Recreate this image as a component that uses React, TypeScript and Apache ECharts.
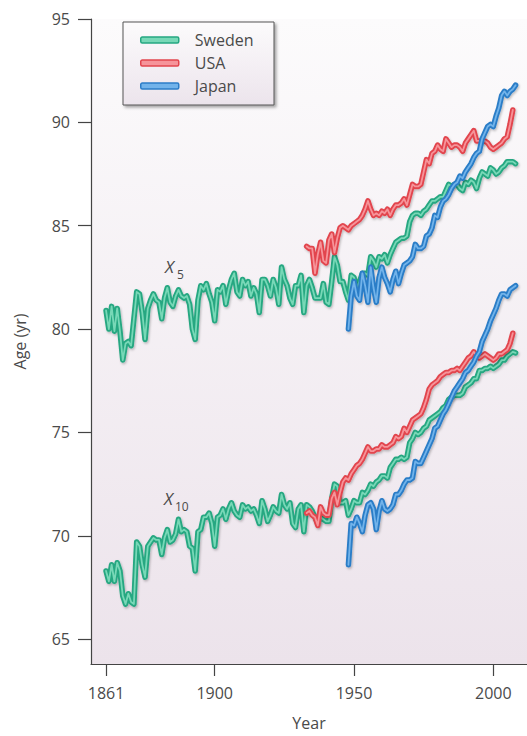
import React, { useEffect, useRef } from "react";
import * as echarts from "echarts";

const SWEDEN_START = 1861;
const USA_START = 1933;
const JAPAN_START = 1948;

const xTickYears = [1861, 1900, 1950, 2000];
const yTickValues = [65, 70, 75, 80, 85, 90, 95];
const countries = ["Sweden", "USA", "Japan"];

const swedenX5 = [
  80.9, 80.0, 81.1, 79.9, 81.0, 79.9, 78.5, 79.3, 79.4, 79.2,
  80.5, 81.8, 81.7, 80.8, 79.5, 81.0, 81.4, 81.7, 81.4, 81.3,
  80.5, 81.5, 82.0, 81.3, 81.1, 81.6, 81.9, 81.6, 81.5, 81.6,
  81.2, 80.0, 79.5, 81.4, 82.1, 81.9, 82.2, 81.7, 81.3, 80.4,
  81.9, 81.8, 82.1, 81.2, 81.9, 82.4, 82.7, 81.8, 81.6, 82.4,
  82.1, 82.3, 81.6, 82.0, 81.7, 80.8, 82.4, 82.4, 82.1, 81.6,
  82.4, 82.0, 81.2, 83.0, 82.4, 82.1, 81.5, 81.2, 82.1, 82.1,
  82.6, 80.8, 82.1, 82.4, 82.0, 81.5, 81.5, 81.5, 82.2, 81.3,
  81.2, 82.3, 83.5, 83.1, 82.3, 82.3, 81.8, 81.4, 82.6, 82.5,
  82.0, 82.3, 82.7, 82.7, 82.6, 83.5, 83.3, 83.0, 83.5, 83.4,
  83.6, 83.2, 83.6, 83.9, 84.2, 84.3, 84.4, 84.4, 84.5, 85.2,
  85.5, 85.6, 85.6, 85.5, 85.7, 85.8, 86.0, 86.2, 86.2, 86.3,
  86.4, 86.4, 86.7, 87.0, 86.9, 87.0, 87.0, 86.8, 86.7, 87.1,
  87.0, 87.2, 87.1, 86.8, 87.3, 87.6, 87.5, 87.4, 87.8, 87.7,
  87.5, 87.6, 87.8, 87.9, 88.1, 88.1, 88.1, 88.0,
];

const swedenX10 = [
  68.3, 67.8, 68.6, 67.8, 68.7, 68.3, 67.1, 66.7, 67.2, 66.8,
  66.7, 69.7, 69.5, 68.6, 68.0, 69.5, 69.7, 69.9, 69.8, 69.8,
  69.1, 69.9, 70.3, 69.7, 69.8, 70.1, 70.8, 70.2, 70.3, 70.2,
  69.5, 69.4, 68.3, 70.2, 70.3, 70.9, 70.9, 71.1, 70.6, 69.5,
  70.9, 71.0, 71.3, 70.8, 71.3, 71.6, 71.2, 71.0, 70.9, 71.5,
  71.3, 71.4, 71.2, 71.3, 71.0, 70.6, 71.7, 71.3, 70.7, 71.0,
  71.4, 71.2, 71.1, 72.0, 71.5, 71.3, 71.6, 70.6, 70.4, 71.3,
  71.5, 70.2, 71.5, 71.4, 71.2, 70.9, 70.6, 70.9, 70.8, 70.7,
  70.7, 71.8, 72.5, 72.4, 71.6, 71.6, 71.7, 71.0, 71.3, 71.7,
  71.6, 71.6, 72.1, 72.0, 72.2, 72.5, 72.4, 72.6, 72.7, 72.9,
  72.9, 72.8, 73.3, 73.5, 73.7, 73.7, 73.8, 73.7, 73.8, 74.5,
  74.7, 75.0, 74.9, 75.0, 75.2, 75.3, 75.6, 75.7, 75.8, 75.9,
  76.0, 76.2, 76.3, 76.6, 76.7, 76.8, 76.8, 76.8, 76.9, 77.2,
  77.3, 77.4, 77.6, 77.6, 78.0, 78.0, 78.1, 78.1, 78.2, 78.1,
  78.2, 78.3, 78.5, 78.5, 78.7, 78.8, 78.9, 78.85,
];

const usaX5 = [
  84.0, 83.9, 83.9, 82.7, 83.6, 84.2, 83.3, 83.2, 84.3, 84.6,
  83.7, 84.4, 84.9, 85.0, 84.9, 84.8, 85.0, 85.1, 85.2, 85.3,
  85.5, 85.8, 86.2, 85.8, 85.5, 85.6, 85.5, 85.7, 85.6, 85.8,
  85.5, 85.8, 86.0, 86.0, 86.1, 86.3, 86.0, 86.5, 87.0, 86.9,
  86.9, 87.0, 87.6, 88.2, 88.0, 88.5, 88.6, 88.9, 88.7, 88.6,
  89.2, 89.0, 88.8, 88.9, 88.9, 88.8, 88.6, 89.0, 89.2, 89.4,
  89.6, 89.1, 89.1, 89.1, 89.1, 89.0, 88.8, 88.7, 88.8, 88.9,
  89.0, 89.2, 89.3, 89.9, 90.6,
];

const usaX10 = [
  71.1, 71.2, 71.0, 70.9, 70.5, 71.4, 71.1, 71.0, 71.0, 71.8,
  72.1, 71.5, 72.1, 72.6, 72.8, 72.7, 73.0, 73.2, 73.4, 73.5,
  73.7, 74.0, 74.3, 74.1, 74.1, 74.2, 74.2, 74.4, 74.3, 74.3,
  74.4, 74.5, 74.8, 74.7, 74.8, 75.2, 75.0, 75.3, 75.6, 75.7,
  75.8, 75.9, 76.2, 76.6, 77.1, 77.3, 77.4, 77.5, 77.7, 77.8,
  77.9, 77.9, 78.0, 78.0, 78.1, 78.0, 78.2, 78.4, 78.6, 78.7,
  78.9, 78.7, 78.6, 78.7, 78.8, 78.7, 78.6, 78.5, 78.6, 78.8,
  78.8, 78.9, 79.0, 79.3, 79.8,
];

const japanX5 = [
  80.0, 81.6, 82.3, 81.6, 81.4, 82.7, 82.1, 81.3, 83.0, 82.0,
  81.3, 82.5, 83.0, 82.5, 82.2, 81.8, 82.4, 82.8, 82.2, 82.7,
  83.1, 83.2, 83.3, 83.5, 84.1, 83.9, 83.9, 84.0, 84.5, 84.6,
  84.9, 85.5, 85.4, 85.9, 86.2, 86.3, 86.5, 86.8, 87.0, 87.1,
  87.4, 87.3, 87.6, 87.8, 88.0, 88.3, 88.5, 88.6, 89.2, 89.5,
  89.8, 89.9, 89.8, 90.3, 90.7, 91.3, 91.5, 91.3, 91.5, 91.6, 91.8,
];

const japanX10 = [
  68.6, 70.6, 70.5, 70.9, 70.6, 70.2, 71.0, 71.5, 71.6, 71.3,
  70.3, 71.2, 71.7, 71.3, 71.2, 71.3, 71.5, 72.0, 72.0, 72.2,
  72.5, 72.7, 72.7, 72.8, 73.6, 73.5, 73.5, 73.8, 74.1, 74.4,
  74.7, 75.2, 75.3, 75.6, 75.9, 76.1, 76.4, 76.7, 77.0, 77.2,
  77.4, 77.6, 77.9, 78.0, 78.2, 78.4, 78.7, 78.9, 79.4, 79.7,
  80.0, 80.4, 80.7, 81.0, 81.4, 81.7, 81.7, 81.6, 81.9, 82.0, 82.1,
];

const COLORS: Record<string, { outer: string; inner: string }> = {
  Sweden: { outer: "#25a781", inner: "#78d8b7" },
  USA: { outer: "#e2454e", inner: "#f6949a" },
  Japan: { outer: "#2c7dc7", inner: "#72b3ea" },
};

const TEXT = "#4a4a4a";
const FONT = "'Open Sans', 'DejaVu Sans', sans-serif";

const toPairs = (start: number, arr: number[]) => arr.map((v, i) => [start + i, v]);

function lineSeries(name: string, start: number, values: number[]) {
  const c = COLORS[name];
  const data = toPairs(start, values);
  return [
    {
      name,
      type: "line",
      data,
      symbol: "none",
      showSymbol: false,
      silent: true,
      lineStyle: {
        color: c.outer,
        width: 5.5,
        join: "round",
        cap: "round",
        shadowColor: "rgba(0,0,0,0.25)",
        shadowBlur: 2,
        shadowOffsetX: 1,
        shadowOffsetY: 1.5,
      },
      itemStyle: { color: c.outer },
    },
    {
      name,
      type: "line",
      data,
      symbol: "none",
      showSymbol: false,
      silent: true,
      lineStyle: { color: c.inner, width: 1.8, join: "round", cap: "round" },
      itemStyle: { color: c.outer },
    },
  ];
}

export default function App() {
  const ref = useRef<HTMLDivElement>(null);

  useEffect(() => {
    if (!ref.current) return;
    const chart = echarts.init(ref.current, null, { renderer: "svg" });

    const series = [
      ...lineSeries("Sweden", SWEDEN_START, swedenX5),
      ...lineSeries("Sweden", SWEDEN_START, swedenX10),
      ...lineSeries("USA", USA_START, usaX5),
      ...lineSeries("USA", USA_START, usaX10),
      ...lineSeries("Japan", JAPAN_START, japanX5),
      ...lineSeries("Japan", JAPAN_START, japanX10),
    ];

    chart.setOption({
      animation: false,
      backgroundColor: "#ffffff",
      textStyle: { fontFamily: FONT },
      grid: {
        left: 91,
        top: 19,
        right: 0,
        bottom: 65,
        show: true,
        borderWidth: 0,
        backgroundColor: new echarts.graphic.LinearGradient(0, 0, 0, 1, [
          { offset: 0, color: "#fcfbfc" },
          { offset: 1, color: "#ece3eb" },
        ]),
      },
      xAxis: {
        type: "value",
        min: 1855.6,
        max: 2012.1,
        name: "Year",
        nameLocation: "middle",
        nameGap: 51,
        nameTextStyle: { color: TEXT, fontSize: 16, fontFamily: FONT },
        axisLine: { show: true, onZero: false, lineStyle: { color: "#444", width: 1.2 } },
        axisTick: { show: true, length: 12, customValues: xTickYears, lineStyle: { color: "#444", width: 1.2 } },
        axisLabel: {
          customValues: xTickYears,
          color: TEXT,
          fontSize: 16,
          margin: 21,
          fontFamily: FONT,
          formatter: (v: number) => String(v),
        },
        splitLine: { show: false },
      },
      yAxis: {
        type: "value",
        min: 63.8,
        max: 95,
        name: "Age (yr)",
        nameLocation: "middle",
        nameGap: 63,
        nameTextStyle: { color: TEXT, fontSize: 16, fontFamily: FONT },
        axisLine: { show: true, onZero: false, lineStyle: { color: "#444", width: 1.2 } },
        axisTick: { show: true, length: 13, customValues: yTickValues, lineStyle: { color: "#444", width: 1.2 } },
        axisLabel: { customValues: yTickValues, color: TEXT, fontSize: 16, margin: 21, fontFamily: FONT },
        splitLine: { show: false },
      },
      legend: {
        orient: "vertical",
        left: 140,
        top: 32,
        padding: 0,
        itemGap: 7,
        itemWidth: 38,
        itemHeight: 6,
        selectedMode: false,
        z: 10,
        textStyle: { color: TEXT, fontSize: 16, lineHeight: 16, fontFamily: FONT, padding: [0, 0, 0, 11] },
        data: countries.map((n) => ({
          name: n,
          icon: "roundRect",
          itemStyle: { color: COLORS[n].inner, borderColor: COLORS[n].outer, borderWidth: 1.5 },
        })),
      },
      graphic: [
        {
          type: "rect",
          z: 5,
          shape: { x: 123, y: 22, width: 151, height: 83 },
          style: {
            fill: new echarts.graphic.LinearGradient(0, 0, 0, 1, [
              { offset: 0, color: "#fcfbfc" },
              { offset: 1, color: "#ece4ec" },
            ]),
            stroke: "#555555",
            lineWidth: 1,
            shadowColor: "rgba(0,0,0,0.35)",
            shadowBlur: 3,
            shadowOffsetX: 2,
            shadowOffsetY: 2,
          },
        },
        {
          type: "text",
          z: 10,
          left: 165,
          top: 258,
          style: { text: "X", fill: TEXT, fontSize: 17, fontStyle: "italic", fontFamily: FONT },
        },
        {
          type: "text",
          z: 10,
          left: 177,
          top: 268,
          style: { text: "5", fill: TEXT, fontSize: 12, fontFamily: FONT },
        },
        {
          type: "text",
          z: 10,
          left: 164,
          top: 490,
          style: { text: "X", fill: TEXT, fontSize: 17, fontStyle: "italic", fontFamily: FONT },
        },
        {
          type: "text",
          z: 10,
          left: 175,
          top: 500,
          style: { text: "10", fill: TEXT, fontSize: 12, fontFamily: FONT },
        },
      ],
      series,
    });

    return () => chart.dispose();
  }, []);

  return (
    <div
      ref={ref}
      style={{ position: "fixed", left: 0, top: 0, width: 527, height: 736 }}
    />
  );
}
